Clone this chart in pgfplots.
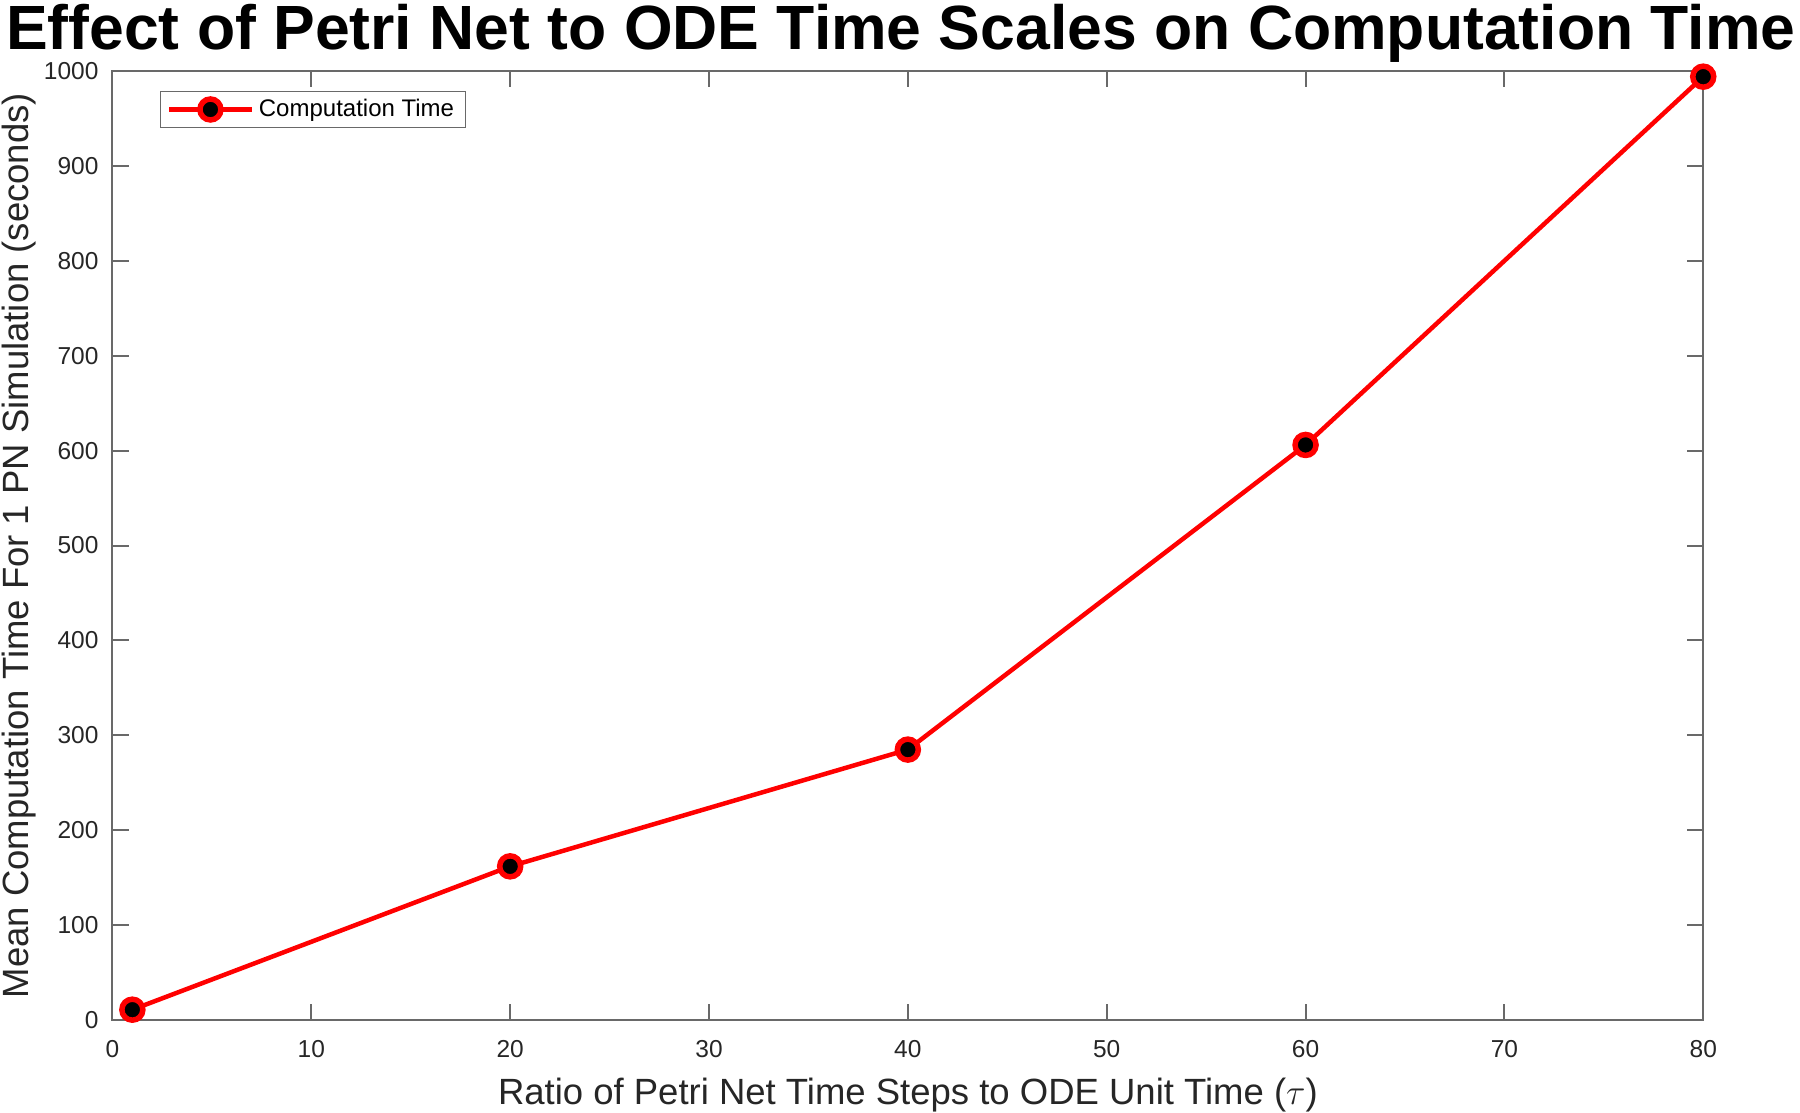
\documentclass[border=0pt]{standalone}
\usepackage{fontspec}
\setmainfont{Liberation Sans}
\usepackage{pgfplots}
\pgfplotsset{compat=1.18}
\definecolor{axgray}{RGB}{105,105,105}
\definecolor{txtgray}{RGB}{38,38,38}
\begin{document}
\begin{tikzpicture}
\begin{axis}[
 scale only axis, width=636.4pt, height=379.7pt,
 xmin=0, xmax=80, ymin=0, ymax=1000,
 xtick={0,10,...,80}, ytick={0,100,...,1000},
 tick align=inside, major tick length=6.5pt,
 axis line style={axgray, line width=0.8pt},
 every tick/.style={axgray, line width=0.8pt},
 /pgf/number format/assume math mode=true,
 /pgf/number format/1000 sep={},
 ticklabel style={font=\fontsize{9.8}{11}\selectfont, text=txtgray, inner sep=0pt},
 xticklabel style={anchor=north, yshift=-8pt},
 yticklabel style={anchor=east, xshift=-5.4pt},
 xlabel={Ratio of Petri Net Time Steps to ODE Unit Time ($\tau$)},
 ylabel={Mean Computation Time For 1 PN Simulation (seconds)},
 label style={font=\fontsize{14.6}{17}\selectfont, text=txtgray, inner sep=0pt},
 xlabel style={at={(axis description cs:0.5,-0.0885)}, anchor=base},
 ylabel style={at={(axis description cs:-0.0525,0.5)}, anchor=base},
 legend style={at={(axis description cs:0.0299,0.9794)}, anchor=north west, draw=axgray, line width=0.5pt, font=\fontsize{9.6}{11}\selectfont, inner xsep=2.5pt, inner ysep=1.1pt, cells={anchor=west}, text=black},
 legend image code/.code={\draw[mark repeat=2, mark phase=2, #1] plot coordinates {(0pt,0pt) (16.5pt,0pt) (33pt,0pt)};},
 clip=false,
]
\addplot[red, line width=1.8pt, mark=*, mark size=4.2pt, mark options={fill=black, draw=red, line width=2.2pt}] coordinates {(1,11) (20,162) (40,285) (60,606) (80,994)};
\addlegendentry{Computation Time}
\end{axis}
\node[font=\fontsize{25}{30}\selectfont\bfseries, anchor=base, inner sep=0pt] at (315.4pt,388.3pt) {Effect of Petri Net to ODE Time Scales on Computation Time};
\pgfresetboundingbox
\path[use as bounding box] (-45pt,-37.1pt) rectangle (675.1pt,408.1pt);
\end{tikzpicture}
\end{document}
